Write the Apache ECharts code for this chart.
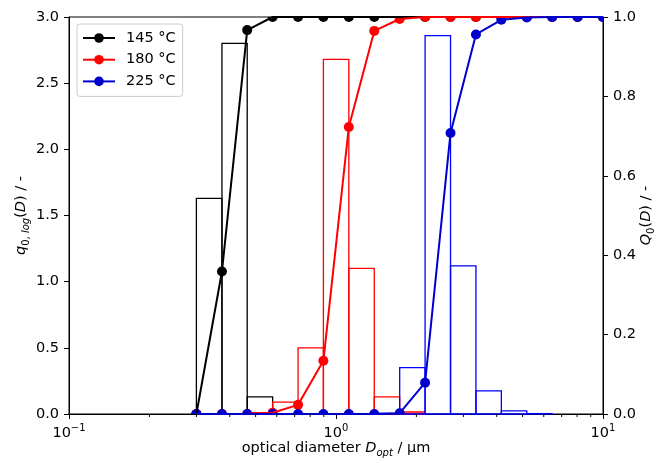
<!DOCTYPE html>
<html>
<head>
<meta charset="utf-8">
<script src="https://cdn.jsdelivr.net/npm/echarts@6/dist/echarts.min.js"></script>
<style>
  html, body { margin: 0; padding: 0; background: #fff; }
  #chart { width: 655px; height: 462px; }
</style>
</head>
<body>
<div id="chart"></div>
<script>
// bin edges of the optical particle sizer (um)
const edges = [0.3, 0.374, 0.465, 0.579, 0.721, 0.897, 1.117, 1.391, 1.732, 2.156, 2.685, 3.343, 4.162, 5.182, 6.451, 8.032, 10.0]

// q0,log per bin (left axis)
const q145 = [1.63, 2.80, 0.13, 0, 0, 0, 0, 0, 0, 0, 0, 0, 0, 0, 0, 0]
const q180 = [0, 0, 0.01, 0.09, 0.50, 2.68, 1.10, 0.13, 0.015, 0, 0, 0, 0, 0, 0, 0]
const q225 = [0, 0, 0, 0, 0, 0, 0, 0.005, 0.35, 2.86, 1.12, 0.175, 0.023, 0.003, 0, 0]

// Q0 at each edge (right axis)
const Q145 = [0, 0.359, 0.967, 1, 1, 1, 1, 1, 1, 1, 1, 1, 1, 1, 1, 1, 1]
const Q180 = [0, 0, 0, 0.003, 0.023, 0.134, 0.723, 0.965, 0.995, 1, 1, 1, 1, 1, 1, 1, 1]
const Q225 = [0, 0, 0, 0, 0, 0, 0, 0, 0.002, 0.079, 0.708, 0.956, 0.993, 0.999, 1, 1, 1]

const names = ['145 °C', '180 °C', '225 °C']
const minorTicks = [0.2, 0.3, 0.4, 0.5, 0.6, 0.7, 0.8, 0.9, 2, 3, 4, 5, 6, 7, 8, 9]

const FONT = 'DejaVu Sans'
const FS = 14.5
const lineColors = ['#000000', '#ff0000', '#0000cd']
const barColors = ['#000000', '#ff0000', '#0000ff']

const rich = {
  i: { fontFamily: FONT, fontSize: FS, fontStyle: 'italic', color: '#000' },
  n: { fontFamily: FONT, fontSize: FS, color: '#000' },
  sub: { fontFamily: FONT, fontSize: 10, lineHeight: 10, padding: [9, 0, 0, 0], color: '#000' },
  isub: { fontFamily: FONT, fontSize: 10, lineHeight: 10, fontStyle: 'italic', padding: [9, 0, 0, 0], color: '#000' },
  sup: { fontFamily: FONT, fontSize: 10, lineHeight: 10, padding: [0, 0, 11, 0], color: '#000' }
}

function histData (q) {
  const out = []
  q.forEach((v, i) => {
    if (v > 0) out.push([edges[i], edges[i + 1], v])
  })
  return out
}

function histSeries (q, k) {
  return {
    type: 'custom',
    name: 'hist ' + names[k],
    xAxisIndex: 0,
    yAxisIndex: 0,
    z: 2,
    silent: true,
    encode: { x: [0, 1], y: 2 },
    data: histData(q),
    renderItem (params, api) {
      const p0 = api.coord([api.value(0), api.value(2)])
      const p1 = api.coord([api.value(1), 0])
      return {
        type: 'rect',
        shape: { x: p0[0], y: p0[1], width: p1[0] - p0[0], height: p1[1] - p0[1] },
        style: { fill: 'none', stroke: barColors[k], lineWidth: 1.3 }
      }
    }
  }
}

function lineSeries (Q, k) {
  return {
    type: 'line',
    name: names[k],
    xAxisIndex: 0,
    yAxisIndex: 1,
    z: 3,
    symbol: 'circle',
    showSymbol: false,
    clip: true,
    silent: true,
    color: lineColors[k],
    itemStyle: { color: lineColors[k] },
    lineStyle: { color: lineColors[k], width: 2 },
    data: edges.map((d, i) => [d, Q[i]])
  }
}

// markers drawn on their own so they are cut at the frame like the reference
function markerSeries (Q, k) {
  return {
    type: 'custom',
    name: 'mk ' + names[k],
    xAxisIndex: 0,
    yAxisIndex: 1,
    z: 3,
    silent: true,
    data: edges.map((d, i) => [d, Q[i]]),
    renderItem (params, api) {
      const p = api.coord([api.value(0), api.value(1)])
      const cs = params.coordSys
      return {
        type: 'circle',
        shape: { cx: p[0], cy: p[1], r: 5 },
        style: { fill: lineColors[k] },
        clipPath: { type: 'rect', shape: { x: cs.x, y: cs.y, width: cs.width, height: cs.height } }
      }
    }
  }
}

const chart = echarts.init(document.getElementById('chart'))

chart.setOption({
  animation: false,
  backgroundColor: '#fff',
  textStyle: { fontFamily: FONT },
  grid: {
    left: 69, right: 52, top: 17, bottom: 48,
    outerBoundsMode: 'none',
    show: true, borderColor: '#000', borderWidth: 1
  },
  legend: {
    data: names,
    orient: 'vertical',
    left: 77,
    top: 24,
    itemWidth: 32,
    itemHeight: 12,
    itemGap: 6.7,
    padding: [6.5, 7, 7.5, 5],
    borderColor: '#cccccc',
    borderWidth: 1,
    borderRadius: 3,
    backgroundColor: 'rgba(255,255,255,0.8)',
    textStyle: { fontFamily: FONT, fontSize: FS, color: '#000', padding: [0, 0, 0, 6] }
  },
  xAxis: {
    type: 'log',
    logBase: 10,
    min: 0.1,
    max: 10,
    name: 'optical diameter {i|D}{isub|opt} / µm',
    nameLocation: 'middle',
    nameGap: 27,
    nameMoveOverlap: false,
    nameTextStyle: { fontFamily: FONT, fontSize: FS, color: '#000', rich: rich },
    axisLine: { lineStyle: { color: '#000', width: 1 } },
    axisTick: { inside: false, length: 5, lineStyle: { color: '#000' } },
    axisLabel: {
      margin: 12,
      fontFamily: FONT,
      fontSize: FS,
      color: '#000',
      rich: rich,
      formatter (v) {
        const e = Math.round(Math.log10(v))
        return '{n|10}{sup|' + (e < 0 ? '\u2212' + (-e) : e) + '}'
      }
    },
    splitLine: { show: false }
  },
  yAxis: [
    {
      type: 'value',
      min: 0,
      max: 3,
      interval: 0.5,
      position: 'left',
      name: '{i|q}{sub|0, }{isub|log}{n|(}{i|D}{n|) / -}',
      nameLocation: 'middle',
      nameRotate: 90,
      nameGap: 40,
      nameMoveOverlap: false,
      nameTextStyle: { fontFamily: FONT, fontSize: FS, color: '#000', rich: rich },
      axisLine: { show: true, lineStyle: { color: '#000', width: 1 } },
      axisTick: { show: true, inside: false, length: 5, lineStyle: { color: '#000' } },
      axisLabel: { margin: 10, fontFamily: FONT, fontSize: FS, color: '#000', formatter: v => v.toFixed(1) },
      splitLine: { show: false }
    },
    {
      type: 'value',
      min: 0,
      max: 1,
      interval: 0.2,
      position: 'right',
      name: '{i|Q}{sub|0}{n|(}{i|D}{n|) / -}',
      nameLocation: 'middle',
      nameRotate: 90,
      nameGap: 36,
      nameMoveOverlap: false,
      nameTextStyle: { fontFamily: FONT, fontSize: FS, color: '#000', rich: rich },
      axisLine: { show: true, lineStyle: { color: '#000', width: 1 } },
      axisTick: { show: true, inside: false, length: 5, lineStyle: { color: '#000' } },
      axisLabel: { margin: 10, fontFamily: FONT, fontSize: FS, color: '#000', formatter: v => v.toFixed(1) },
      splitLine: { show: false }
    }
  ],
  series: [
    histSeries(q145, 0),
    histSeries(q180, 1),
    histSeries(q225, 2),
    lineSeries(Q145, 0),
    markerSeries(Q145, 0),
    lineSeries(Q180, 1),
    markerSeries(Q180, 1),
    lineSeries(Q225, 2),
    markerSeries(Q225, 2),
    {
      // minor ticks of the log axis
      type: 'custom',
      name: 'minor',
      xAxisIndex: 0,
      yAxisIndex: 0,
      silent: true,
      z: 4,
      clip: false,
      data: minorTicks.map(v => [v, 0]),
      renderItem (params, api) {
        const p = api.coord([api.value(0), 0])
        return {
          type: 'line',
          shape: { x1: p[0], y1: p[1], x2: p[0], y2: p[1] + 3 },
          style: { stroke: '#000', lineWidth: 1 }
        }
      }
    }
  ]
})
</script>
</body>
</html>
